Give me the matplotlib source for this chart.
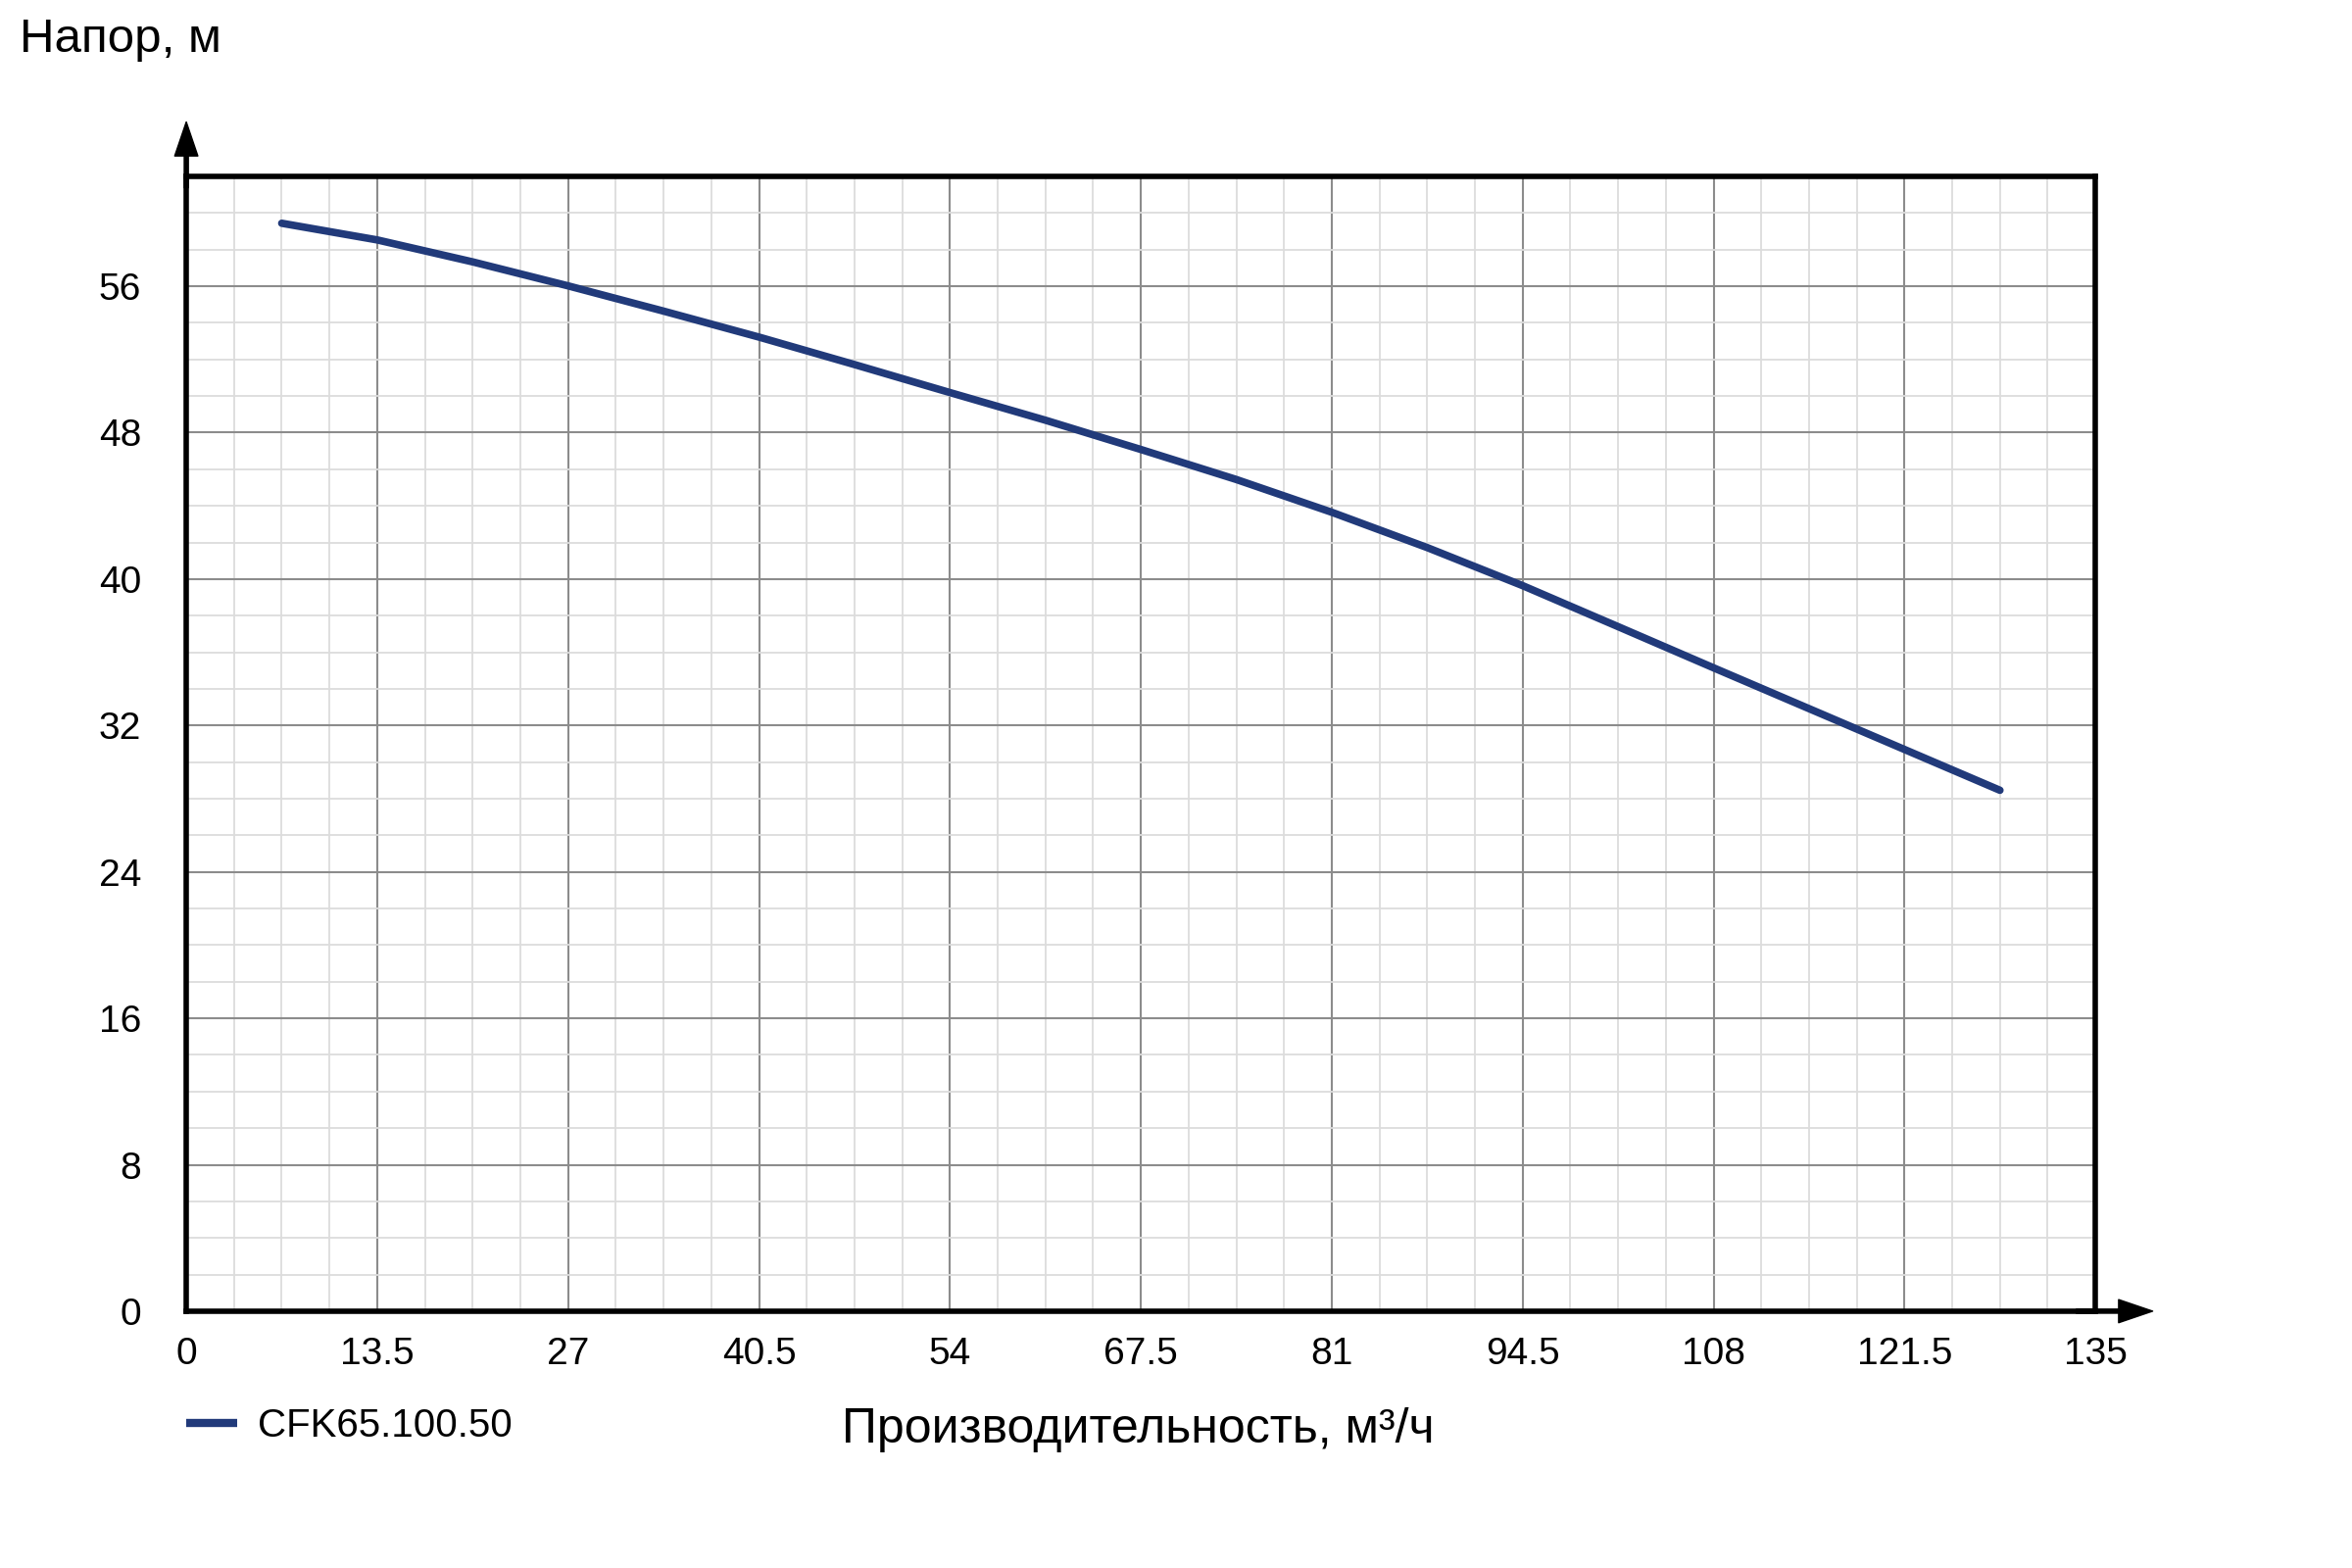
import matplotlib
matplotlib.use('Agg')
import matplotlib.pyplot as plt
from matplotlib.ticker import MultipleLocator

plt.rcParams['font.family'] = ['Liberation Sans', 'DejaVu Sans']

# Pump curve (one reading every two minor grid steps)
flow = [6.75, 13.5, 20.25, 27, 33.75, 40.5, 47.25, 54, 60.75, 67.5,
        74.25, 81, 87.75, 94.5, 101.25, 108, 114.75, 121.5, 128.25]
head = [59.44, 58.53, 57.33, 56.02, 54.64, 53.22, 51.72, 50.19, 48.68, 47.08,
        45.44, 43.65, 41.72, 39.64, 37.40, 35.15, 32.92, 30.69, 28.46]
series_name = 'CFK65.100.50'

x_ticks = [0, 13.5, 27, 40.5, 54, 67.5, 81, 94.5, 108, 121.5, 135]
x_tick_labels = ['0', '13.5', '27', '40.5', '54', '67.5', '81', '94.5', '108', '121.5', '135']
y_ticks = [0, 8, 16, 24, 32, 40, 48, 56]

line_color = '#213a7a'

fig = plt.figure(figsize=(24, 16), dpi=100)
ax = fig.add_axes([0.0792, 0.1638, 0.8117, 0.7237])

ax.plot(flow, head, color=line_color, lw=5.5, solid_capstyle='round',
        solid_joinstyle='round', label=series_name, zorder=5)

ax.set_xlim(0, 135)
ax.set_ylim(0, 62)
ax.set_xticks(x_ticks)
ax.set_xticklabels(x_tick_labels)
ax.set_yticks(y_ticks)
ax.xaxis.set_minor_locator(MultipleLocator(3.375))
ax.yaxis.set_minor_locator(MultipleLocator(2))

ax.grid(which='minor', color='#dcdcdc', lw=1.3)
ax.grid(which='major', color='#8c8c8c', lw=1.5)
ax.set_axisbelow(True)

ax.tick_params(which='both', length=0)
ax.tick_params(axis='x', labelsize=28, pad=19)
ax.tick_params(axis='y', labelsize=28, pad=33)

for side in ['top', 'right', 'bottom', 'left']:
    ax.spines[side].set_linewidth(4)
    ax.spines[side].set_color('black')
    ax.spines[side].set_zorder(6)

# axis arrows
ax.annotate('', xy=(0, 1.048), xytext=(0, 0.99), xycoords='axes fraction',
            arrowprops=dict(facecolor='black', edgecolor='black', width=3,
                            headwidth=17, headlength=25, shrink=0),
            annotation_clip=False)
ax.annotate('', xy=(1.03, 0), xytext=(0.99, 0), xycoords='axes fraction',
            arrowprops=dict(facecolor='black', edgecolor='black', width=3,
                            headwidth=17, headlength=25, shrink=0),
            annotation_clip=False)

fig.text(0.0083, 0.967, 'Напор, м', fontsize=35.5, va='baseline', ha='left')
fig.text(0.484, 0.080, 'Производительность, м³/ч', fontsize=36,
         va='baseline', ha='center')

leg = ax.legend(loc='center left', bbox_to_anchor=(0.0792, 1 - 1455 / 1600),
                bbox_transform=fig.transFigure, frameon=False, fontsize=29,
                handlelength=1.3, handletextpad=0.5, borderpad=0,
                borderaxespad=0)
leg.get_lines()[0].set_linewidth(6)
leg.get_lines()[0].set_solid_capstyle('butt')

fig.savefig('out.png', dpi=100)
